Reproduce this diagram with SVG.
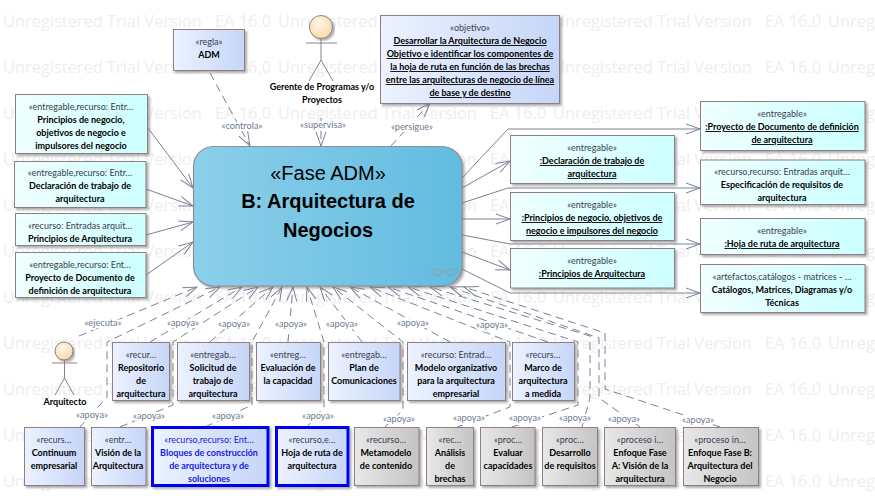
<svg xmlns="http://www.w3.org/2000/svg" width="875" height="498" viewBox="0 0 875 498">
<style>
text{font-family:"Lato","Open Sans","Liberation Sans",sans-serif;font-size:9px;text-anchor:middle;fill:#000}
.wm{font-family:"Open Sans","DejaVu Sans",sans-serif;font-size:16.4px;fill:#eeeeee;text-anchor:start}
.st{fill:#3a4050;font-weight:400}
.nm{font-weight:700}
.u{font-weight:700;text-decoration:underline}
.lb{fill:#6d7a8e;paint-order:stroke;stroke:#fff;stroke-width:4px;stroke-linejoin:round;font-size:9.2px}
.main{font-family:"Liberation Sans",Arial,sans-serif;font-size:20px}
.n{stroke:#8f7f82;stroke-width:1;filter:url(#sh)}
.b{fill:url(#gb)}.c{fill:url(#gc)}.g{fill:url(#gg)}
.hl{stroke:#0000f0;stroke-width:3;fill:url(#gb);filter:url(#sh)}
.bt text{fill:#1a1ae0}
.ln{fill:none;stroke:#7a8299;stroke-width:1}
.ar{marker-end:url(#oa)}
.d{stroke-dasharray:8 5}
.actor{fill:none;stroke:#8f7f82;stroke-width:1}
</style>
<defs>
<linearGradient id="gb"><stop offset="0" stop-color="#ecf2ff"/><stop offset="1" stop-color="#c6d6f8"/></linearGradient>
<linearGradient id="gc"><stop offset="0" stop-color="#f0ffff"/><stop offset="1" stop-color="#ccffff"/></linearGradient>
<linearGradient id="gg"><stop offset="0" stop-color="#e8e8e8"/><stop offset="1" stop-color="#c4c4c4"/></linearGradient>
<linearGradient id="gm"><stop offset="0" stop-color="#8ccfea"/><stop offset="1" stop-color="#62bce0"/></linearGradient>
<radialGradient id="gh" cx=".4" cy=".35" r=".7"><stop offset="0" stop-color="#fff6e8"/><stop offset="1" stop-color="#f8d8a8"/></radialGradient>
<filter id="sh" x="-10%" y="-10%" width="120%" height="120%"><feDropShadow dx="2" dy="2" stdDeviation="0.8" flood-color="#777" flood-opacity=".6"/></filter>
<marker id="oa" markerUnits="userSpaceOnUse" markerWidth="18" markerHeight="14" refX="15" refY="6" orient="auto" overflow="visible"><path d="M1,1 L15,6 L1,11" fill="none" stroke="#7a8299" stroke-width="1"/></marker>
<g id="wmr"><text class="wm"><tspan x="3">Unregistered Trial Version</tspan><tspan x="215">EA 16.0</tspan><tspan x="278">Unregistered Trial Version</tspan><tspan x="490">EA 16.0</tspan><tspan x="553">Unregistered Trial Version</tspan><tspan x="765">EA 16.0</tspan><tspan x="828">Unregistered Trial Version</tspan></text></g>
</defs>
<rect width="875" height="498" fill="#fff"/>
<g id="watermark">
<use href="#wmr" y="27"/><use href="#wmr" y="73"/><use href="#wmr" y="119"/><use href="#wmr" y="165"/><use href="#wmr" y="211"/><use href="#wmr" y="257"/><use href="#wmr" y="303"/><use href="#wmr" y="349"/><use href="#wmr" y="395"/><use href="#wmr" y="441"/><use href="#wmr" y="487"/>
</g>
<g id="connectors">
<g class="ln ar">
<path d="M148,128L193,188"/><path d="M146,189L193,206"/><path d="M146,235L193,222"/><path d="M146,275L193,242"/>
<path d="M462,178L508,129L700,129"/><path d="M462,188L510,161"/><path d="M462,203L508,188L700,188"/><path d="M462,219L510,219"/><path d="M462,235L510,244L700,244"/><path d="M462,252L510,270"/><path d="M462,269L510,293L700,293"/>
</g>
<g class="ln ar d">
<path d="M210,73L250,146"/><path d="M321,118L321,146"/><path d="M391,146L430,103"/>
<path d="M79,336L197,287"/><path d="M80,427L107,397L107,342L220,287"/><path d="M150,342L242,287"/><path d="M120,427L173,405L173,342L258,287"/><path d="M210,342L273,287"/><path d="M205,427L252,405L252,342L282,287"/><path d="M288,342L293,287"/><path d="M307,427L324,407L324,342L307,287"/><path d="M362,342L320,287"/><path d="M385,427L403,410L403,342L333,287"/><path d="M450,342L350,287"/><path d="M457,427L510,407L510,342L370,287"/><path d="M548,342L388,287"/><path d="M512,427L578,405L578,342L408,287"/><path d="M582,427L590,398L590,336L430,287"/><path d="M640,427L599,398L599,338L450,287"/><path d="M720,427L605,389L605,333L464,287"/>
</g>
<g>
<text class="lb" x="242" y="129">«controla»</text><text class="lb" x="323" y="128">«supervisa»</text><text class="lb" x="412" y="130">«persigue»</text>
<text class="lb" x="103" y="326">«ejecuta»</text><text class="lb" x="183" y="326">«apoya»</text><text class="lb" x="234" y="327">«apoya»</text><text class="lb" x="291" y="327">«apoya»</text><text class="lb" x="342" y="327">«apoya»</text><text class="lb" x="413" y="326">«apoya»</text><text class="lb" x="492" y="328">«apoya»</text>
<text class="lb" x="92" y="418">«apoya»</text><text class="lb" x="149" y="419">«apoya»</text><text class="lb" x="228" y="419">«apoya»</text><text class="lb" x="318" y="419">«apoya»</text><text class="lb" x="399" y="422">«apoya»</text><text class="lb" x="469" y="421">«apoya»</text><text class="lb" x="525" y="421">«apoya»</text><text class="lb" x="575" y="421">«apoya»</text><text class="lb" x="624" y="422">«apoya»</text><text class="lb" x="698" y="423">«apoya»</text>
</g>
</g>
<g id="fase-adm"><rect x="193.500" y="146.500" width="268.500" height="139.500" rx="20" fill="url(#gm)" stroke="#8f8f98" stroke-width="1.2" filter="url(#sh)"/>
<text class="main" x="328" y="180">«Fase ADM»</text><text class="main" x="328" y="208" style="font-weight:700">B: Arquitectura de</text><text class="main" x="328" y="237" style="font-weight:700">Negocios</text>
<g fill="none" stroke="#9a9aa8" stroke-width="1.2"><ellipse cx="437" cy="272" rx="5" ry="3"/><ellipse cx="451" cy="272" rx="5" ry="3"/><path d="M442,272H446"/></g></g>
<g id="regla"><rect class="n b" x="173.500" y="29.500" width="71" height="41"/><text class="st" x="209" y="45">«regla»</text><text class="nm" x="209" y="58">ADM</text></g>
<g id="gerente" class="actor"><circle cx="321" cy="27" r="11.500" fill="url(#gh)" style="filter:url(#sh)"/><path d="M306,43H337M321,38.500V60L309,81M321,60L333,81"/></g>
<g id="gerente-label"><text class="nm" x="322" y="90">Gerente de Programas y/o</text><text class="nm" x="322" y="103">Proyectos</text></g>
<g id="objetivo"><rect class="n b" x="380.500" y="15.500" width="179" height="88"/><text class="st" x="470" y="31">«objetivo»</text><text class="u" x="470" y="44">Desarrollar la Arquitectura de Negocio</text><text class="u" x="470" y="57">Objetivo e identificar los componentes de</text><text class="u" x="470" y="70">la hoja de ruta en función de las brechas</text><text class="u" x="470" y="83">entre las arquitecturas de negocio de línea</text><text class="u" x="470" y="96">de base y de destino</text></g>
<g id="e1"><rect class="n c" x="15.500" y="94.500" width="132" height="59"/><text class="st" x="81" y="110">«entregable,recurso: Entr…</text><text class="nm" x="81" y="123">Principios de negocio,</text><text class="nm" x="81" y="136">objetivos de negocio e</text><text class="nm" x="81" y="149">impulsores del negocio</text></g>
<g id="e2"><rect class="n c" x="14.500" y="161.500" width="131.500" height="46"/><text class="st" x="80" y="176">«entregable,recurso: Entr…</text><text class="nm" x="80" y="189">Declaración de trabajo de</text><text class="nm" x="80" y="202">arquitectura</text></g>
<g id="e3"><rect class="n c" x="15.500" y="213.500" width="130.500" height="32"/><text class="st" x="80" y="229">«recurso: Entradas arquit…</text><text class="nm" x="80" y="242">Principios de Arquitectura</text></g>
<g id="e4"><rect class="n c" x="15.500" y="252.500" width="130.500" height="45"/><text class="st" x="80" y="268">«entregable,recurso: Ent…</text><text class="nm" x="80" y="281">Proyecto de Documento de</text><text class="nm" x="80" y="294">definición de arquitectura</text></g>
<g id="d1"><rect class="n c" x="510.500" y="135.500" width="164" height="48"/><text class="st" x="592" y="151">«entregable»</text><text class="u" x="592" y="164">:Declaración de trabajo de</text><text class="u" x="592" y="177">arquitectura</text></g>
<g id="d2"><rect class="n c" x="510.500" y="192.500" width="164" height="48"/><text class="st" x="592" y="208">«entregable»</text><text class="u" x="592" y="221">:Principios de negocio, objetivos de</text><text class="u" x="592" y="234">negocio e impulsores del negocio</text></g>
<g id="d3"><rect class="n c" x="510.500" y="248.500" width="164" height="39.500"/><text class="st" x="592" y="264">«entregable»</text><text class="u" x="592" y="277">:Principios de Arquitectura</text></g>
<g id="r1"><rect class="n c" x="700.500" y="101.500" width="164.500" height="49"/><text class="st" x="782" y="117">«entregable»</text><text class="u" x="782" y="130">:Proyecto de Documento de definición</text><text class="u" x="782" y="143">de arquitectura</text></g>
<g id="r2"><rect class="n c" x="700.500" y="160" width="164.500" height="44.500"/><text class="st" x="782" y="175">«recurso,recurso: Entradas arquit…</text><text class="nm" x="782" y="188">Especificación de requisitos de</text><text class="nm" x="782" y="201">arquitectura</text></g>
<g id="r3"><rect class="n c" x="700.500" y="218.500" width="164.500" height="36"/><text class="st" x="782" y="234">«entregable»</text><text class="u" x="782" y="247">:Hoja de ruta de arquitectura</text></g>
<g id="r4"><rect class="n c" x="700.500" y="264.500" width="164.500" height="48"/><text class="st" x="782" y="280">«artefactos,catálogos - matrices - …</text><text class="nm" x="782" y="293">Catálogos, Matrices, Diagramas y/o</text><text class="nm" x="782" y="306">Técnicas</text></g>
<g id="arquitecto"><g class="actor"><circle cx="64" cy="351" r="9" fill="url(#gh)" style="filter:url(#sh)"/><path d="M52,363H77M64.500,360V378L55,395M64.500,378L74,395"/></g><text class="nm" x="65" y="405">Arquitecto</text></g>
<g id="repositorio"><rect class="n b" x="112.500" y="342.500" width="57" height="58"/><text class="st" x="141" y="358">«recur…</text><text class="nm" x="141" y="371">Repositorio</text><text class="nm" x="141" y="384">de</text><text class="nm" x="141" y="397">arquitectura</text></g>
<g id="solicitud"><rect class="n b" x="177.500" y="342.500" width="72" height="58"/><text class="st" x="213" y="358">«entregab…</text><text class="nm" x="213" y="371">Solicitud de</text><text class="nm" x="213" y="384">trabajo de</text><text class="nm" x="213" y="397">arquitectura</text></g>
<g id="evaluacion"><rect class="n b" x="256.500" y="342.500" width="64" height="58"/><text class="st" x="288" y="358">«entreg…</text><text class="nm" x="288" y="371">Evaluación de</text><text class="nm" x="288" y="384">la capacidad</text></g>
<g id="plan"><rect class="n b" x="328.500" y="342.500" width="71.500" height="58"/><text class="st" x="364" y="358">«entregab…</text><text class="nm" x="364" y="371">Plan de</text><text class="nm" x="364" y="384">Comunicaciones</text></g>
<g id="modelo"><rect class="n b" x="407.500" y="342.500" width="98" height="58"/><text class="st" x="456" y="358">«recurso: Entrad…</text><text class="nm" x="456" y="371">Modelo organizativo</text><text class="nm" x="456" y="384">para la arquitectura</text><text class="nm" x="456" y="397">empresarial</text></g>
<g id="marco"><rect class="n b" x="512.500" y="342.500" width="62" height="58"/><text class="st" x="543" y="358">«recurs…</text><text class="nm" x="543" y="371">Marco de</text><text class="nm" x="543" y="384">arquitectura</text><text class="nm" x="543" y="397">a medida</text></g>
<g id="continuum"><rect class="n b" x="24.500" y="427.500" width="60" height="58"/><text class="st" x="54" y="443">«recurs…</text><text class="nm" x="54" y="456">Continuum</text><text class="nm" x="54" y="469">empresarial</text></g>
<g id="vision"><rect class="n b" x="91.500" y="427.500" width="54.500" height="58"/><text class="st" x="118" y="443">«entr…</text><text class="nm" x="118" y="456">Visión de la</text><text class="nm" x="118" y="469">Arquitectura</text></g>
<g id="bloques" class="bt"><rect class="hl" x="152.500" y="427.500" width="115.500" height="58"/><text x="209" y="443">«recurso,recurso: Ent…</text><text class="nm" x="209" y="456">Bloques de construcción</text><text class="nm" x="209" y="469">de arquitectura y de</text><text class="nm" x="209" y="482">soluciones</text></g>
<g id="hoja"><rect class="hl" x="276.500" y="427.500" width="71.500" height="58"/><text class="st" x="312" y="443">«recurso,e…</text><text class="nm" x="312" y="456">Hoja de ruta de</text><text class="nm" x="312" y="469">arquitectura</text></g>
<g id="metamodelo"><rect class="n g" x="354.500" y="427.500" width="64.500" height="58"/><text class="st" x="386" y="443">«recurso…</text><text class="nm" x="386" y="456">Metamodelo</text><text class="nm" x="386" y="469">de contenido</text></g>
<g id="analisis"><rect class="n g" x="426.500" y="427.500" width="47" height="58"/><text class="st" x="450" y="443">«rec…</text><text class="nm" x="450" y="456">Análisis</text><text class="nm" x="450" y="469">de</text><text class="nm" x="450" y="482">brechas</text></g>
<g id="evaluar"><rect class="n g" x="480.500" y="427.500" width="54.500" height="58"/><text class="st" x="508" y="443">«proc…</text><text class="nm" x="508" y="456">Evaluar</text><text class="nm" x="508" y="469">capacidades</text></g>
<g id="desarrollo"><rect class="n g" x="542.500" y="427.500" width="55" height="58"/><text class="st" x="570" y="443">«proc…</text><text class="nm" x="570" y="456">Desarrollo</text><text class="nm" x="570" y="469">de requisitos</text></g>
<g id="enfoque-a"><rect class="n g" x="604.500" y="427.500" width="71" height="58"/><text class="st" x="640" y="443">«proceso i…</text><text class="nm" x="640" y="456">Enfoque Fase</text><text class="nm" x="640" y="469">A: Visión de la</text><text class="nm" x="640" y="482">arquitectura</text></g>
<g id="enfoque-b"><rect class="n g" x="683.500" y="427.500" width="75" height="58"/><text class="st" x="720" y="443">«proceso in…</text><text class="nm" x="720" y="456">Enfoque Fase B:</text><text class="nm" x="720" y="469">Arquitectura del</text><text class="nm" x="720" y="482">Negocio</text></g>
</svg>
